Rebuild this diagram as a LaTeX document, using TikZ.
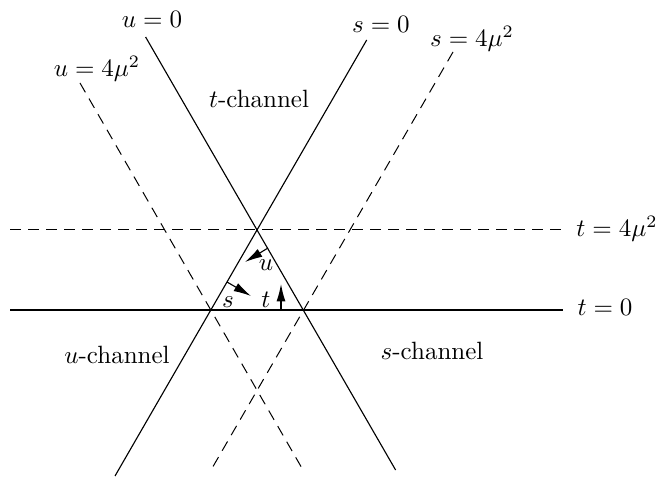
\documentclass[tikz,border=0pt]{standalone}
\usetikzlibrary{arrows.meta}
\begin{document}
\begin{tikzpicture}[x=0.4pt,y=-0.4pt,
  ln/.style={line width=0.45pt},
  dl/.style={line width=0.4pt, dash pattern=on 4.3pt off 2.9pt},
  ar/.style={line width=0.45pt,-{Latex[length=7pt,width=3.6pt]}},
  lab/.style={inner sep=0pt, anchor=base},
  sm/.style={inner sep=0pt, anchor=center}]
\useasboundingbox (0,0) rectangle (660,478);
% end points
\coordinate (u0a) at (145.6,37);
\coordinate (u0b) at (395.6,470);
\coordinate (s0a) at (366.7,40);
\coordinate (s0b) at (115,476);
\coordinate (s4a) at (453,52);
\coordinate (s4b) at (211,470);
\coordinate (u4a) at (80,83);
\coordinate (u4b) at (303,470);
\coordinate (t4a) at (10,230);
\coordinate (t4b) at (563,230);
\coordinate (t0a) at (10,310);
\coordinate (t0b) at (563,310);
% lines
\draw[ln] (u0a) -- (u0b);
\draw[ln] (s0a) -- (s0b);
\draw[ln] (t0a) -- (t0b);
\draw[dl] (s4a) -- (s4b);
\draw[dl] (u4a) -- (u4b);
\draw[dl] (t4a) -- (t4b);
% labels
\node[lab] (lu0) at (152,28) {$u=0$};
\node[lab] (lu4) at (97,77) {$u=4\mu^2$};
\node[lab] (ls0) at (381,33) {$s=0$};
\node[lab] (ls4) at (472,47) {$s=4\mu^2$};
\node[lab] (lt4) at (617,237) {$t=4\mu^2$};
\node[lab] (lt0) at (605,316) {$t=0$};
\node[lab] (tch) at (259,108) {$t$-channel};
\node[lab] (uch) at (117,364) {$u$-channel};
\node[lab] (sch) at (432,360) {$s$-channel};
% arrows in the triangle
\coordinate (ua) at (268,248);
\coordinate (ub) at (245,262);
\coordinate (sa) at (227,282);
\coordinate (sb) at (251,296);
\coordinate (ta) at (281,310);
\coordinate (tb) at (281,284);
\draw[ar] (ua) -- (ub);
\draw[ar] (sa) -- (sb);
\draw[ar] (ta) -- (tb);
\node[sm] (lu) at (266,265) {$u$};
\node[sm] (ls) at (228,302) {$s$};
\node[sm] (lt) at (266,300) {$t$};
\end{tikzpicture}
\end{document}
